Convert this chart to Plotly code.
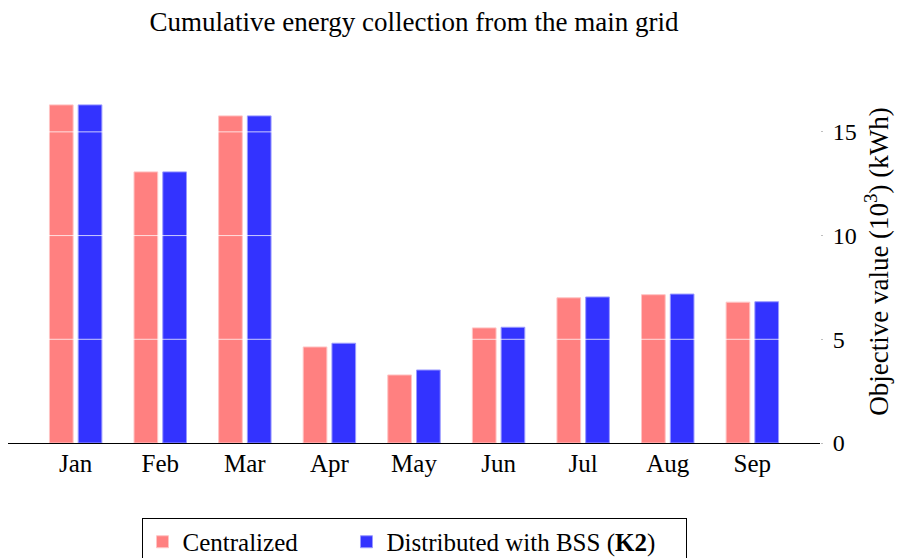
import plotly.graph_objects as go

# Monthly energy drawn from the main grid, in 10^3 kWh
months = ["Jan", "Feb", "Mar", "Apr", "May", "Jun", "Jul", "Aug", "Sep"]
centralized = [16.3, 13.07, 15.77, 4.63, 3.28, 5.55, 7.0, 7.15, 6.79]
distributed_k2 = [16.3, 13.07, 15.77, 4.81, 3.52, 5.58, 7.04, 7.18, 6.81]
y_ticks = [0, 5, 10, 15]

FONT = "Liberation Serif"
BAR_W = 0.28
NBSP = "\u00a0"

fig = go.Figure()
fig.add_trace(go.Bar(
    x=months, y=centralized, name="Centralized" + NBSP * 7,
    width=BAR_W, offset=-0.31,
    marker=dict(color="#ff8080", line=dict(color="#ffc4c4", width=1)),
))
fig.add_trace(go.Bar(
    x=months, y=distributed_k2, name="Distributed with BSS (<b>K2</b>)" + NBSP * 4,
    width=BAR_W, offset=0.03,
    marker=dict(color="#3333ff", line=dict(color="#9a9aff", width=1)),
))

# white horizontal grid lines drawn over the bars
for t in y_ticks[1:]:
    fig.add_shape(type="line", xref="paper", yref="y", x0=0, x1=1, y0=t, y1=t,
                  line=dict(color="rgba(255,255,255,0.75)", width=1), layer="above")

fig.update_layout(
    width=898, height=558,
    margin=dict(l=8, r=78, t=80, b=115, autoexpand=False),
    paper_bgcolor="white", plot_bgcolor="white",
    font=dict(family=FONT, size=24, color="black"),
    barmode="group",
    showlegend=True,
    title=dict(text="Cumulative energy collection from the main grid",
               x=0.5, xref="paper", xanchor="center",
               y=1 - 22 / 558, yref="container", yanchor="middle",
               font=dict(family=FONT, size=27)),
    xaxis=dict(
        range=[-0.8, 8.8], showgrid=False, zeroline=False,
        showline=True, linecolor="black", linewidth=1.2,
        ticks="", tickfont=dict(size=25), ticklabelstandoff=-2,
    ),
    yaxis=dict(
        side="right", range=[0, 17.5], tickvals=y_ticks,
        showgrid=False, zeroline=False, showline=False,
        ticks="outside", ticklen=2, tickcolor="rgba(0,0,0,0.25)",
        tickfont=dict(size=24), ticklabelstandoff=5,
        title=dict(text="Objective value (10<sup>3</sup>) (kWh)", standoff=13,
                   font=dict(size=27)),
    ),
    legend=dict(
        orientation="h", x=0.5, xanchor="center", y=-0.2066, yanchor="top",
        bordercolor="black", borderwidth=1, bgcolor="white",
        font=dict(size=25),
    ),
)

fig.write_html("out.html")
